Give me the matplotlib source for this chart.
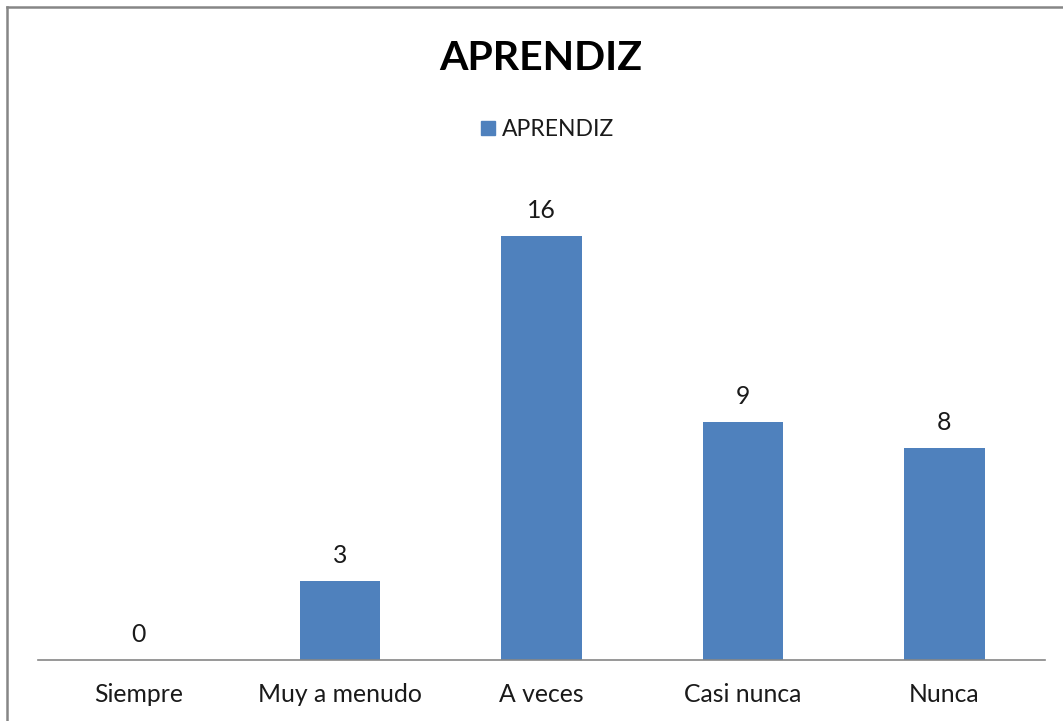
import matplotlib.pyplot as plt
from matplotlib.lines import Line2D

categories = ["Siempre", "Muy a menudo", "A veces", "Casi nunca", "Nunca"]
values = [0, 3, 16, 9, 8]
series_name = "APRENDIZ"

W, H = 1063, 721
fig = plt.figure(figsize=(W / 100, H / 100), dpi=100)
plt.rcParams['font.family'] = ['Lato', 'DejaVu Sans']

ax = fig.add_axes([38 / W, 61 / H, 1007 / W, 477 / H])
x = range(len(categories))
bars = ax.bar(x, values, width=0.4, color="#4F81BD", label=series_name, zorder=2)
ax.set_xlim(-0.5, len(categories) - 0.5)
ax.set_ylim(0, 18)

for s in ["top", "right", "left"]:
    ax.spines[s].set_visible(False)
ax.spines["bottom"].set_color("#868686")
ax.spines["bottom"].set_linewidth(1.2)
ax.set_yticks([])
ax.set_xticks(list(x))
ax.set_xticklabels(categories, fontsize=17.8, color="#1a1a1a")
ax.tick_params(axis="x", length=0, pad=16.5)

for xi, v in zip(x, values):
    ax.annotate(str(v), (xi, v), xytext=(0, 10), textcoords="offset points",
                ha="center", va="bottom", fontsize=17.8, color="#1a1a1a")

fig.text(541 / W, 1 - 58 / H, "APRENDIZ", ha="center", va="center",
         fontsize=29.5, fontweight="bold", color="#000000")

handle = Line2D([], [], marker="s", linestyle="none", markersize=10,
                color="#4F81BD")
fig.legend([handle], [series_name], loc="center", bbox_to_anchor=(545 / W, 1 - 130 / H),
           frameon=False, fontsize=16.5, handletextpad=0.1, handlelength=1.0,
           labelcolor="#1a1a1a")

# chart frame (left and top edges visible in the reference)
fig.add_artist(Line2D([7 / W, 7 / W], [0, 1 - 7 / H], color="#868686", linewidth=1.8))
fig.add_artist(Line2D([7 / W, 1.0], [1 - 7 / H, 1 - 7 / H], color="#868686", linewidth=1.8))

fig.savefig("out.png", dpi=100)
